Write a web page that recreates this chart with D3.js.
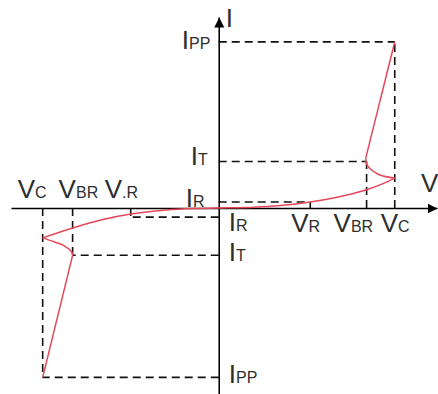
<!DOCTYPE html>
<html>
<head>
<meta charset="utf-8">
<script src="https://cdn.jsdelivr.net/npm/d3@7"></script>
<style>
  html, body { margin: 0; padding: 0; background: #fff; }
  svg { display: block; }
</style>
</head>
<body>
<div id="chart"></div>
<script>
// voltage marks (VR, VBR, VC) on each side of the origin
var vNames = ["R", "BR", "C"];
var vPos = [5.2, 8.4, 10.0];
var vNeg = [-5.0, -8.3, -10.0];

// current marks (IR, IT, IPP)
var iNames = ["R", "T", "PP"];
var iPos = [0.36, 2.8, 10.0];
var iNeg = [-0.55, -2.85, -10.2];

// main I-V curve, from the left knee through the origin to the right knee
var curveV = [-10, -8.3, -6.7, -5, -3, -1.5, 0, 2, 3.5, 5.2, 6.8, 8.4, 9.3, 10];
var curveI = [-1.8, -1.2, -0.72, -0.36, -0.12, -0.03, 0, 0.05, 0.15, 0.36, 0.66, 1.1, 1.45, 1.8];

// knee arcs back to IT
var arcPosV = [10, 9.15, 8.69, 8.42, 8.35];
var arcPosI = [1.8, 1.99, 2.29, 2.6, 3.0];
var arcNegV = [-10, -9.32, -8.75, -8.35, -8.3];
var arcNegI = [-1.8, -2.05, -2.29, -2.65, -2.85];

var width = 438, height = 394;

var svg = d3.select("#chart").append("svg")
  .attr("width", width)
  .attr("height", height);

var x = d3.scaleLinear().domain([-11.8, 12.4]).range([11, 437]);
var y = d3.scaleLinear().domain([-11.2, 11.5]).range([394, 17]);

// arrow head for the axes
svg.append("defs").append("marker")
  .attr("id", "arrow")
  .attr("markerUnits", "userSpaceOnUse")
  .attr("viewBox", "0 0 10 10")
  .attr("refX", 10)
  .attr("refY", 5)
  .attr("markerWidth", 10)
  .attr("markerHeight", 10)
  .attr("orient", "auto")
  .append("path")
  .attr("d", "M0,0L10,5L0,10z")
  .attr("fill", "#000");

// dashed guide lines, drawn outward from the axes
var guides = svg.append("g")
  .attr("stroke", "#111")
  .attr("stroke-width", 1.6)
  .attr("stroke-dasharray", "8,5")
  .attr("fill", "none");

function drawGuides(vs, is) {
  vs.forEach(function(v, k) {
    guides.append("line")
      .attr("x1", x(0)).attr("y1", y(is[k]))
      .attr("x2", x(v)).attr("y2", y(is[k]));
    guides.append("line")
      .attr("x1", x(v)).attr("y1", y(0))
      .attr("x2", x(v)).attr("y2", y(is[k]));
  });
}
drawGuides(vPos, iPos);
drawGuides(vNeg, iNeg);

// axes without ticks, only the domain line with an arrow
var xAxis = svg.append("g")
  .attr("transform", "translate(0," + y(0) + ")")
  .call(d3.axisBottom(x).tickValues([]).tickSizeOuter(0));
var yAxis = svg.append("g")
  .attr("transform", "translate(" + x(0) + ",0)")
  .call(d3.axisLeft(y).tickValues([]).tickSizeOuter(0));

[xAxis, yAxis].forEach(function(g) {
  g.select(".domain")
    .attr("stroke", "#000")
    .attr("stroke-width", 1.6)
    .attr("marker-end", "url(#arrow)");
});

// the red characteristic
var smooth = d3.line()
  .x(function(d) { return x(d[0]); })
  .y(function(d) { return y(d[1]); })
  .curve(d3.curveCatmullRom);
var straight = d3.line()
  .x(function(d) { return x(d[0]); })
  .y(function(d) { return y(d[1]); });

var curveG = svg.append("g")
  .attr("fill", "none")
  .attr("stroke", "#e5475a")
  .attr("stroke-width", 1.5)
  .attr("stroke-linejoin", "round");

curveG.append("path").attr("d", smooth(d3.zip(curveV, curveI)));
curveG.append("path").attr("d", smooth(d3.zip(arcPosV, arcPosI)));
curveG.append("path").attr("d", smooth(d3.zip(arcNegV, arcNegI)));
curveG.append("path").attr("d", straight([
  [arcPosV[arcPosV.length - 1], arcPosI[arcPosI.length - 1]],
  [vPos[2], iPos[2]]
]));
curveG.append("path").attr("d", straight([
  [arcNegV[arcNegV.length - 1], arcNegI[arcNegI.length - 1]],
  [vNeg[2], iNeg[2]]
]));

// labels: a big letter followed by a small-caps style subscript
var labels = svg.append("g")
  .attr("font-family", "'Liberation Sans', Arial, sans-serif")
  .attr("fill", "#2e2e2e");

function label(px, py, main, sub) {
  var t = labels.append("text").attr("x", px).attr("y", py);
  t.append("tspan").attr("font-size", 26).text(main);
  if (sub) t.append("tspan").attr("font-size", 16).text(sub);
}

// axis names
label(x(0) + 7, 27, "I", "");
label(421, 192, "V", "");

// current labels: left of the axis for positive, right for negative
var iPosDx = [-33, -28, -37];
var iPosDy = [5, 4, 7];
var iNegDy = [14, 6, 6];
iPos.forEach(function(v, k) {
  label(x(0) + iPosDx[k], y(v) + iPosDy[k], "I", iNames[k]);
});
iNeg.forEach(function(v, k) {
  label(x(0) + 10, y(v) + iNegDy[k], "I", iNames[k]);
});

// voltage labels: below the axis on the right, above it on the left
var vPosDx = [-19, -33, -14];
var vNegDx = [-26, -14, -25];
vPos.forEach(function(v, k) {
  label(x(v) + vPosDx[k], y(0) + 24, "V", vNames[k]);
});
vNeg.forEach(function(v, k) {
  label(x(v) + vNegDx[k], y(0) - 10, "V", (k === 0 ? "." : "") + vNames[k]);
});
</script>
</body>
</html>
